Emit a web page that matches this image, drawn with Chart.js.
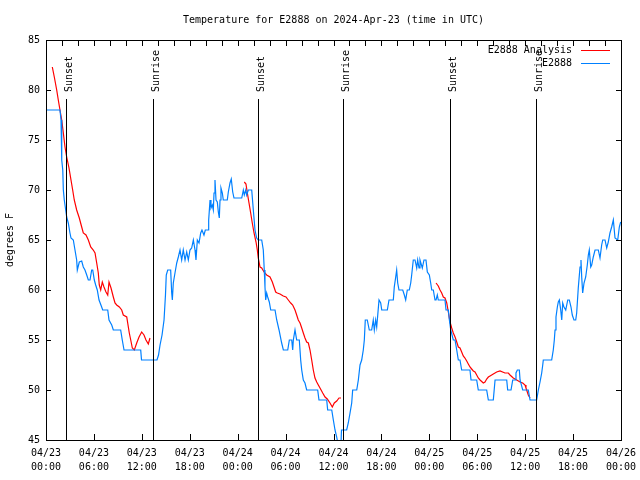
<!DOCTYPE html>
<html><head><meta charset="utf-8">
<script src="https://cdn.jsdelivr.net/npm/chart.js@4.4.1/dist/chart.umd.min.js"></script>
<style>html,body{margin:0;padding:0;background:#fff}</style>
</head><body>
<canvas id="c" width="640" height="480"></canvas>
<script>
const chartTitle = 'Temperature for E2888 on 2024-Apr-23 (time in UTC)';
const yAxisTitle = 'degrees F';
const seriesNames = ['E2888 Analysis', 'E2888'];
const xTickDates = ['04/23','04/23','04/23','04/23','04/24','04/24','04/24','04/24','04/25','04/25','04/25','04/25','04/26'];
const xTickTimes = ['00:00','06:00','12:00','18:00','00:00','06:00','12:00','18:00','00:00','06:00','12:00','18:00','00:00'];
const sunEventHours = [2.55, 13.36, 26.59, 37.23, 50.63, 61.32];
const sunEventLabels = ['Sunset','Sunrise','Sunset','Sunrise','Sunset','Sunrise'];

// hours since 04/23 00:00 UTC, temperature in degrees F
const sensorHours = [0,1.75,1.88,1.97,2.10,2.17,2.29,2.59,2.79,3.0,3.13,3.42,3.63,3.84,3.92,4.17,4.47,4.67,4.88,5.10,5.30,5.51,5.72,5.85,6.05,6.22,6.42,6.64,6.97,7.10,7.73,7.89,8.23,8.43,9.35,9.55,9.77,11.86,11.96,13.9,14.09,14.28,14.53,14.78,14.96,15.06,15.24,15.61,15.74,15.82,15.94,16.15,16.37,16.57,16.78,16.99,17.19,17.41,17.62,17.82,18.03,18.24,18.45,18.66,18.78,18.95,19.16,19.37,19.53,19.78,19.95,20.29,20.37,20.54,20.66,20.82,20.95,21.04,21.16,21.29,21.45,21.58,21.70,21.79,21.91,22.08,22.20,22.70,22.83,23.04,23.20,23.38,23.54,24.51,24.71,24.83,25.01,25.13,25.33,25.76,25.96,26.17,26.38,26.58,27.01,27.21,27.33,27.42,27.51,27.63,27.76,27.96,28.14,28.68,28.89,29.18,29.51,29.72,30.27,30.47,30.77,30.89,30.97,31.18,31.39,31.72,31.89,32.02,32.22,32.43,32.64,34.02,34.18,35.15,35.27,35.78,35.98,36.19,36.40,36.63,36.81,36.92,37.0,37.65,37.85,38.07,38.28,38.40,38.91,39.11,39.32,39.53,39.73,39.86,39.98,40.23,40.48,40.78,40.98,41.11,41.28,41.41,41.54,41.70,41.91,42.04,42.74,42.95,43.49,43.61,43.79,43.91,44.04,44.20,44.67,44.87,45.04,45.24,45.49,45.67,45.79,45.99,46.21,46.42,46.54,46.71,46.83,47.12,47.33,47.58,47.75,48.00,48.17,48.30,48.50,48.71,48.84,49.00,49.12,49.96,50.09,50.38,50.51,50.68,51.00,51.22,51.43,51.63,51.84,52.05,53.09,53.22,53.93,54.13,55.18,55.39,56.01,56.23,57.69,57.81,58.23,58.44,58.73,58.85,59.02,59.27,59.36,59.69,60.39,60.61,61.44,61.65,61.86,62.07,62.20,62.27,63.32,63.52,63.65,63.74,63.86,64.03,64.15,64.28,64.45,64.58,64.70,64.86,65.08,65.33,65.53,65.74,65.90,66.11,66.33,66.45,66.65,66.87,66.99,67.08,67.20,67.37,67.58,67.78,67.91,68.03,68.21,68.33,68.53,68.75,69.16,69.37,69.58,69.71,70.00,70.21,70.41,70.62,70.83,71.04,71.25,71.59,71.79,71.96];
const sensorTemps = [78,78,77,73,72,70,69,67.3,66.7,65.7,65.2,65,64,63,62,62.8,62.9,62.3,62,61.5,61,61,62,62,61,60.5,60,59,58.3,58,58,57,56.5,56,56,55,54,54,53,53,53.5,54.5,55.5,57,59.5,61.5,62,62,59.7,59,60.7,61.7,62.7,63.3,64,63,64,63,63.8,63,64,64.2,65,64,63,65,64.7,65.7,66,65.5,66,66,67,69,68.2,68.5,68,69.7,71,69,68.8,67.8,67.2,69,70.2,69.7,69,69,69.8,70.7,71.1,69.8,69.2,69.2,70,69.5,70,69.5,70,70,68,66,65.2,65,65,64,62,60.3,59,59.7,59.3,58.8,58,58,57,56,54.7,54,54,55,55,54,55,56,55,55,53,52,51,50.7,50,50,49,49,48,48,47,46,45.3,44.3,44,44.2,46,46,46.7,47.7,48.7,50,50,51,52.5,53,54,55,57,57,56,56,57,56,57,56.3,57.5,59,58.7,58,58,59,59,60.3,61.3,62,60.7,60,60,59.5,59,60,60,60.7,61.5,63,63,62.2,63,62.2,63,62.2,63,63,61.8,61.5,60.7,60,60,59,59,59.5,59,59,58,58,57,56,55,55,54,53,53,52,52,51,51,50,50,49,49,51,51,50,50,51,51,51.7,52,52,51,50,50,49,49,50,50.8,51.7,52.5,53,53,54,55,56,57.3,58.3,58.8,59,58,57,58.7,58.3,58,59,59,58.3,57.5,57,57,57.7,60.2,62.3,63,61.3,59.7,60.7,61.3,62.5,63.5,64,62.3,62.5,63.3,64,64,63.2,64.5,65,65,64.2,64.8,65.7,66.3,67,65.2,65,66.3,66.8];

// null values mark the gaps between analysis runs
const analysisHours = [0.79,1.04,1.34,1.54,1.75,1.97,2.17,2.38,2.59,2.88,3.13,3.34,3.54,3.84,4.17,4.47,4.67,5.01,5.30,5.60,5.92,6.14,6.35,6.55,6.67,6.85,7.05,7.26,7.51,7.73,7.89,8.14,8.43,8.64,8.85,9.18,9.48,9.68,10.11,10.23,10.43,10.61,10.81,11.06,11.36,11.65,11.98,12.27,12.52,12.81,13.02,
  18.0,
  24.83,25.04,25.21,25.42,25.63,25.83,26.05,26.30,26.46,26.58,26.80,27.01,27.30,27.63,28.05,28.34,28.55,28.76,28.96,29.30,29.71,30.05,30.34,30.64,30.89,31.18,31.39,31.59,31.81,32.02,32.22,32.43,32.64,32.85,33.06,33.27,33.47,33.68,33.90,34.10,34.31,34.65,34.94,35.22,35.56,35.85,36.10,36.40,36.69,36.94,
  42.0,
  48.84,49.12,49.34,49.55,49.75,49.96,50.18,50.38,50.59,50.80,51.00,51.22,51.43,51.63,51.84,52.05,52.25,52.46,52.68,52.88,53.09,53.30,53.51,53.72,53.93,54.13,54.35,54.76,54.97,55.18,55.39,55.60,56.01,56.43,56.85,57.47,57.89,58.10,58.51,58.94,59.36,59.69,59.98,60.10,60.27,60.39,60.61,60.73];
const analysisTemps = [82.3,81.3,80,79,78,77,75.7,74.3,73.3,72.2,71,70,69,68,67.2,66.3,65.7,65.5,65,64.3,64,63.7,62.7,61.7,60.5,60,60.8,60.3,59.8,59.5,60.8,60.2,59.3,58.7,58.5,58.3,58,57.5,57.3,56.7,55.7,55,54.2,54,54.7,55.3,55.8,55.5,55,54.6,55.2,
  null,
  70.8,70.6,69.7,68.7,67.7,66.7,65.7,64.8,64,63.2,62.3,62.2,61.8,61.5,61.3,60.8,60.3,59.8,59.7,59.6,59.4,59.3,59,58.7,58.5,58,57.5,57,56.7,56.2,55.7,55.2,54.8,54.7,54,53,52,51.2,50.8,50.5,50.2,49.7,49.3,49.1,48.7,48.3,48.7,48.9,49.2,49.2,
  null,
  60.7,60.4,60,59.7,59.3,59.2,58.7,57.8,56.8,56.2,55.7,55.3,54.8,54.3,54.2,53.8,53.4,53.2,52.9,52.6,52.3,52.1,51.9,51.8,51.5,51.2,51,50.7,50.8,51.1,51.3,51.4,51.6,51.8,51.9,51.7,51.7,51.5,51.2,51,50.8,50.7,50.5,50.2,49.8,49.5,49.2,49.2];

const FONT = '"DejaVu Sans Mono", "Liberation Mono", monospace';
const RED = '#ff0000', BLUE = '#0080ff';

const decor = {
  id: 'decor',
  afterDatasetsDraw(chart) {
    const {ctx, chartArea: a, scales: {x, y}} = chart;
    ctx.save();
    ctx.strokeStyle = '#000';
    ctx.fillStyle = '#000';
    ctx.lineWidth = 1;
    ctx.font = '10px ' + FONT;
    // sunrise / sunset markers
    sunEventHours.forEach((h, i) => {
      const px = Math.round(x.getPixelForValue(h)) + 0.5;
      ctx.beginPath(); ctx.moveTo(px, a.top + 59); ctx.lineTo(px, a.bottom); ctx.stroke();
      ctx.save();
      ctx.translate(px + 5, a.top + 52);
      ctx.rotate(-Math.PI / 2);
      ctx.textAlign = 'left'; ctx.textBaseline = 'alphabetic';
      ctx.fillText(sunEventLabels[i], 0, 0);
      ctx.restore();
    });
    // frame
    ctx.strokeRect(a.left + 0.5, a.top + 0.5, a.right - a.left, a.bottom - a.top);
    // inward ticks
    ctx.beginPath();
    for (let h = 0; h <= 72; h += 6) {
      const px = Math.round(x.getPixelForValue(h)) + 0.5;
      ctx.moveTo(px, a.bottom); ctx.lineTo(px, a.bottom - 6);
    }
    for (let h = 0; h <= 72; h += 2) {
      const px = Math.round(x.getPixelForValue(h)) + 0.5;
      ctx.moveTo(px, a.top); ctx.lineTo(px, a.top + 6);
    }
    for (let t = 45; t <= 85; t += 5) {
      const py = Math.round(y.getPixelForValue(t)) + 0.5;
      ctx.moveTo(a.left, py); ctx.lineTo(a.left + 5, py);
      ctx.moveTo(a.right, py); ctx.lineTo(a.right - 5, py);
    }
    ctx.stroke();
    // legend
    ctx.textAlign = 'right'; ctx.textBaseline = 'middle';
    const lx = a.right - 49;
    [[seriesNames[0], RED], [seriesNames[1], BLUE]].forEach((it, i) => {
      const ly = a.top + 10 + i * 13;
      ctx.fillStyle = '#000';
      ctx.fillText(it[0], lx, ly);
      ctx.strokeStyle = it[1];
      ctx.beginPath(); ctx.moveTo(lx + 9, ly + 0.5); ctx.lineTo(lx + 38, ly + 0.5); ctx.stroke();
    });
    // title
    ctx.fillStyle = '#000';
    ctx.textAlign = 'center'; ctx.textBaseline = 'middle';
    ctx.fillText(chartTitle, (a.left + a.right) / 2, 20);
    // y title
    ctx.save();
    ctx.translate(10, (a.top + a.bottom) / 2);
    ctx.rotate(-Math.PI / 2);
    ctx.fillText(yAxisTitle, 0, 0);
    ctx.restore();
    ctx.restore();
  }
};

new Chart(document.getElementById('c'), {
  type: 'line',
  data: {
    datasets: [
      {
        label: seriesNames[1],
        data: sensorHours.map((h, i) => ({x: h, y: sensorTemps[i]})),
        borderColor: BLUE, borderWidth: 1.2, pointRadius: 0, tension: 0, fill: false
      },
      {
        label: seriesNames[0],
        data: analysisHours.map((h, i) => ({x: h, y: analysisTemps[i]})),
        borderColor: RED, borderWidth: 1.2, pointRadius: 0, tension: 0, fill: false, spanGaps: false
      }
    ]
  },
  options: {
    responsive: false,
    animation: false,
    devicePixelRatio: 1,
    layout: {padding: {top: 40, right: 19, left: 0, bottom: 0}},
    plugins: {legend: {display: false}, title: {display: false}, tooltip: {enabled: false}},
    scales: {
      x: {
        type: 'linear', min: 0, max: 72,
        grid: {display: false, drawTicks: false},
        border: {display: false},
        ticks: {
          stepSize: 6, autoSkip: false, maxRotation: 0, padding: 6, color: '#000',
          font: {family: FONT, size: 10, lineHeight: 1.4},
          callback: (v) => { const i = Math.round(v / 6); return [xTickDates[i], xTickTimes[i]]; }
        },
        afterFit: (s) => { s.height = 40; s.paddingLeft = 0; s.paddingRight = 0; }
      },
      y: {
        type: 'linear', min: 45, max: 85,
        grid: {display: false, drawTicks: false},
        border: {display: false},
        ticks: {stepSize: 5, padding: 6, color: '#000', font: {family: FONT, size: 10}},
        afterFit: (s) => { s.width = 46; s.paddingTop = 0; s.paddingBottom = 0; }
      }
    }
  },
  plugins: [decor]
});
</script>
</body></html>
